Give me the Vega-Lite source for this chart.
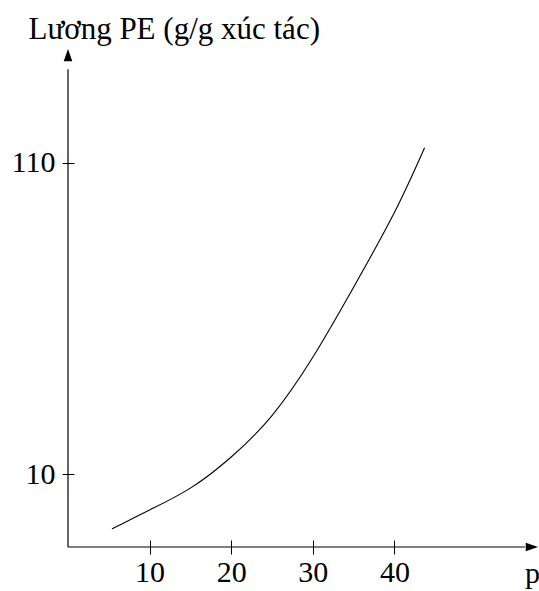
{
  "$schema": "https://vega.github.io/schema/vega-lite/v6.json",
  "width": 470,
  "height": 498,
  "autosize": "none",
  "padding": {"left": 68, "top": 49, "right": 1, "bottom": 44},
  "background": "white",
  "config": {
    "view": {"stroke": null},
    "font": "Liberation Serif",
    "axis": {
      "domain": false,
      "grid": false,
      "tickColor": "black",
      "tickWidth": 1,
      "labelColor": "black",
      "labelFont": "Liberation Serif",
      "labelFontSize": 30,
      "titleColor": "black",
      "titleFont": "Liberation Serif",
      "titleFontWeight": "normal"
    }
  },
  "datasets": {
    "curve": [
      {"p": 5.4, "pe": -7.6},
      {"p": 10, "pe": -1.5},
      {"p": 15, "pe": 5.5},
      {"p": 20, "pe": 15.5},
      {"p": 25, "pe": 28.8},
      {"p": 30, "pe": 47.5},
      {"p": 35, "pe": 70},
      {"p": 40, "pe": 94},
      {"p": 43.7, "pe": 114.8}
    ]
  },
  "layer": [
    {
      "data": {"name": "curve"},
      "mark": {"type": "line", "interpolate": "natural", "color": "black", "strokeWidth": 1.1},
      "encoding": {
        "x": {
          "field": "p",
          "type": "quantitative",
          "scale": {"domain": [0, 57.6], "nice": false, "zero": false},
          "axis": {
            "orient": "bottom",
            "values": [10, 20, 30, 40],
            "offset": -7,
            "tickSize": 14,
            "labelPadding": 3,
            "title": "p",
            "titleFontSize": 30,
            "titleX": 464,
            "titleY": 42,
            "titleAlign": "center",
            "titleBaseline": "alphabetic",
            "titleAngle": 0
          }
        },
        "y": {
          "field": "pe",
          "type": "quantitative",
          "scale": {"domain": [-13.4, 146.5], "nice": false, "zero": false},
          "axis": {
            "orient": "left",
            "values": [10, 110],
            "offset": -6,
            "tickSize": 12,
            "labelPadding": 7,
            "title": "Lương PE (g/g xúc tác)",
            "titleFontSize": 31,
            "titleAngle": 0,
            "titleX": -46,
            "titleY": -11,
            "titleAlign": "left",
            "titleBaseline": "alphabetic"
          }
        }
      }
    },
    {
      "data": {"values": [{}]},
      "mark": {"type": "rule", "color": "black", "strokeWidth": 1.2},
      "encoding": {
        "x": {"datum": 0, "type": "quantitative"},
        "y": {"datum": -13.4, "type": "quantitative"},
        "y2": {"datum": 140}
      }
    },
    {
      "data": {"values": [{}]},
      "mark": {"type": "rule", "color": "black", "strokeWidth": 1.2},
      "encoding": {
        "y": {"datum": -13.4, "type": "quantitative"},
        "x": {"datum": 0, "type": "quantitative"},
        "x2": {"datum": 56}
      }
    },
    {
      "data": {"values": [{}]},
      "mark": {"type": "point", "shape": "M0,0L0.7,2L-0.7,2Z", "size": 150, "filled": true, "color": "black", "opacity": 1},
      "encoding": {
        "x": {"datum": 0, "type": "quantitative"},
        "y": {"datum": 146.5, "type": "quantitative"}
      }
    },
    {
      "data": {"values": [{}]},
      "mark": {"type": "point", "shape": "M0,0L-2,-0.7L-2,0.7Z", "size": 150, "filled": true, "color": "black", "opacity": 1},
      "encoding": {
        "x": {"datum": 57.6, "type": "quantitative"},
        "y": {"datum": -13.4, "type": "quantitative"}
      }
    }
  ]
}
